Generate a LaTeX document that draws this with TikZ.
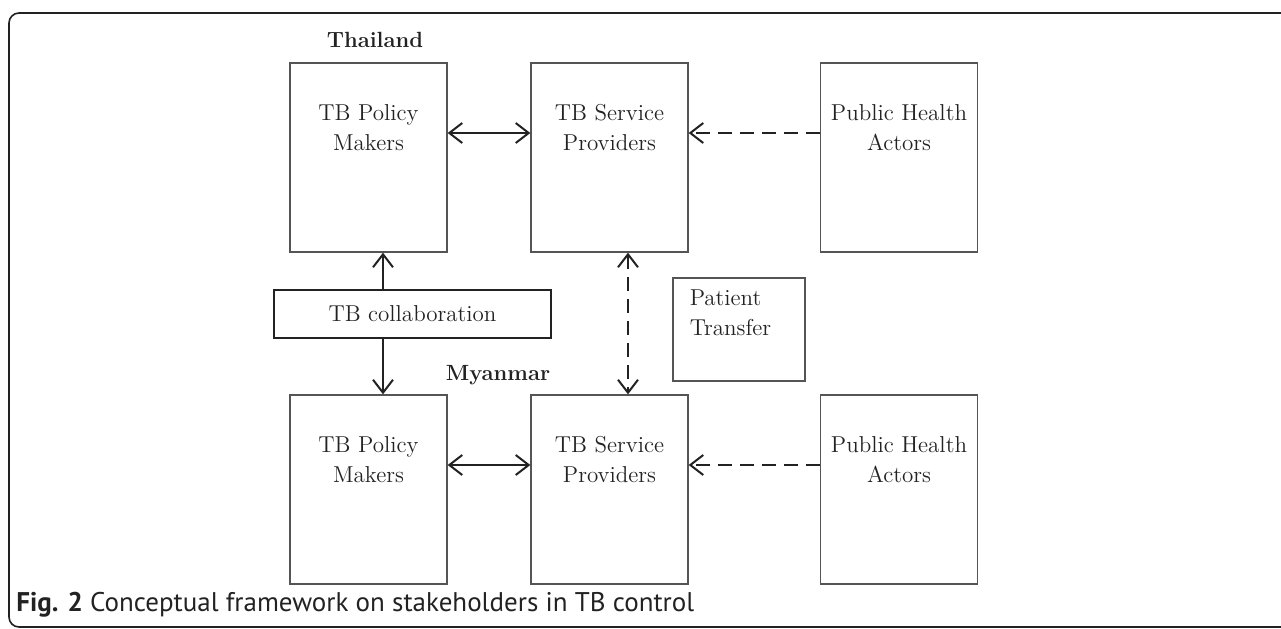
\documentclass[tikz,border=0pt]{standalone}
\usepackage{fontspec}
\newfontfamily\capfont{PT Sans}
\usepackage{tikz}
\usetikzlibrary{positioning}
\usetikzlibrary{calc}
\usetikzlibrary{arrows.meta}
\usepackage{xcolor}
\definecolor{boxgray}{HTML}{555555}
\definecolor{inkgray}{HTML}{222222}

\begin{document}
\begin{tikzpicture}[x=0.5pt, y=-0.5pt,
		box/.style={draw=boxgray, line width=0.65pt, minimum width=78.5pt, minimum height=94.5pt, inner sep=0pt},
		txt/.style={align=center, inner sep=0pt, font=\fontsize{11.5}{15}\selectfont, text=inkgray},
		land/.style={inner sep=0pt, font=\fontsize{11}{13}\selectfont\bfseries, text=inkgray},
		con/.style={draw=inkgray, line width=1pt, >={Straight Barb[length=6.5pt, width=10pt, line width=1pt]}},
		dashcon/.style={con, dash pattern=on 7pt off 4pt}]
	\useasboundingbox (0,0) rectangle (1281,628);
	\draw[inkgray, line width=0.8pt, rounded corners=5pt] (9,13) rectangle (1300,627);
	% Thailand row
	\node[land] (thlab) at (375,40) {Thailand};
	\node[box] (thpol) at (368.5,157.5) {};
	\node[box] (thsrv) at (609.5,157.5) {};
	\node[box] (thpub) at (899,157.5) {};
	\node[txt, anchor=north, below=21pt of thpol.north] (thpoltxt) {TB Policy\\Makers};
	\node[txt, anchor=north, below=21pt of thsrv.north] (thsrvtxt) {TB Service\\Providers};
	\node[txt, anchor=north, below=21pt of thpub.north] (thpubtxt) {Public Health\\Actors};
	% middle
	\node[draw=inkgray, line width=0.6pt, minimum width=138.5pt, minimum height=24pt, txt] (collab) at (412.5,314) {TB collaboration};
	\node[draw=boxgray, line width=0.65pt, minimum width=66pt, minimum height=51.5pt, inner sep=0pt] (ptbox) at (739,329.5) {};
	\node[txt, align=left, anchor=north west, below right=6pt and 8.5pt of ptbox.north west] (pttxt) {Patient\\Transfer};
	% Myanmar row
	\node[land] (mmlab) at (498,375) {Myanmar};
	\node[box] (mmpol) at (368.5,489.5) {};
	\node[box] (mmsrv) at (609.5,489.5) {};
	\node[box] (mmpub) at (899,489.5) {};
	\node[txt, anchor=north, below=21pt of mmpol.north] (mmpoltxt) {TB Policy\\Makers};
	\node[txt, anchor=north, below=21pt of mmsrv.north] (mmsrvtxt) {TB Service\\Providers};
	\node[txt, anchor=north, below=21pt of mmpub.north] (mmpubtxt) {Public Health\\Actors};
	% connectors
	\coordinate (colx) at ($(thpol.south)+(7.25pt,0)$);
	\coordinate (trx) at ($(thsrv.south)+(9.25pt,0)$);
	\draw[con, <->] ([yshift=12.25pt]thpol.east) -- ([yshift=12.25pt]thsrv.west);
	\draw[dashcon, ->] ([yshift=12.25pt]thpub.west) -- ([yshift=12.25pt]thsrv.east);
	\draw[con, <->] ([yshift=12.25pt]mmpol.east) -- ([yshift=12.25pt]mmsrv.west);
	\draw[dashcon, ->] ([yshift=12.25pt]mmpub.west) -- ([yshift=12.25pt]mmsrv.east);
	\draw[con, ->] (colx |- collab.north) -- (colx);
	\draw[con, ->] (colx |- collab.south) -- (colx |- mmpol.north);
	\draw[dashcon, <->] (trx) -- (trx |- mmsrv.north);
	% caption
	\node[anchor=base west, inner sep=0pt, font=\capfont\fontsize{13.5}{16}\selectfont, text=inkgray] (caption) at (16,611) {\textbf{Fig. 2} Conceptual framework on stakeholders in TB control};
\end{tikzpicture}
\end{document}
